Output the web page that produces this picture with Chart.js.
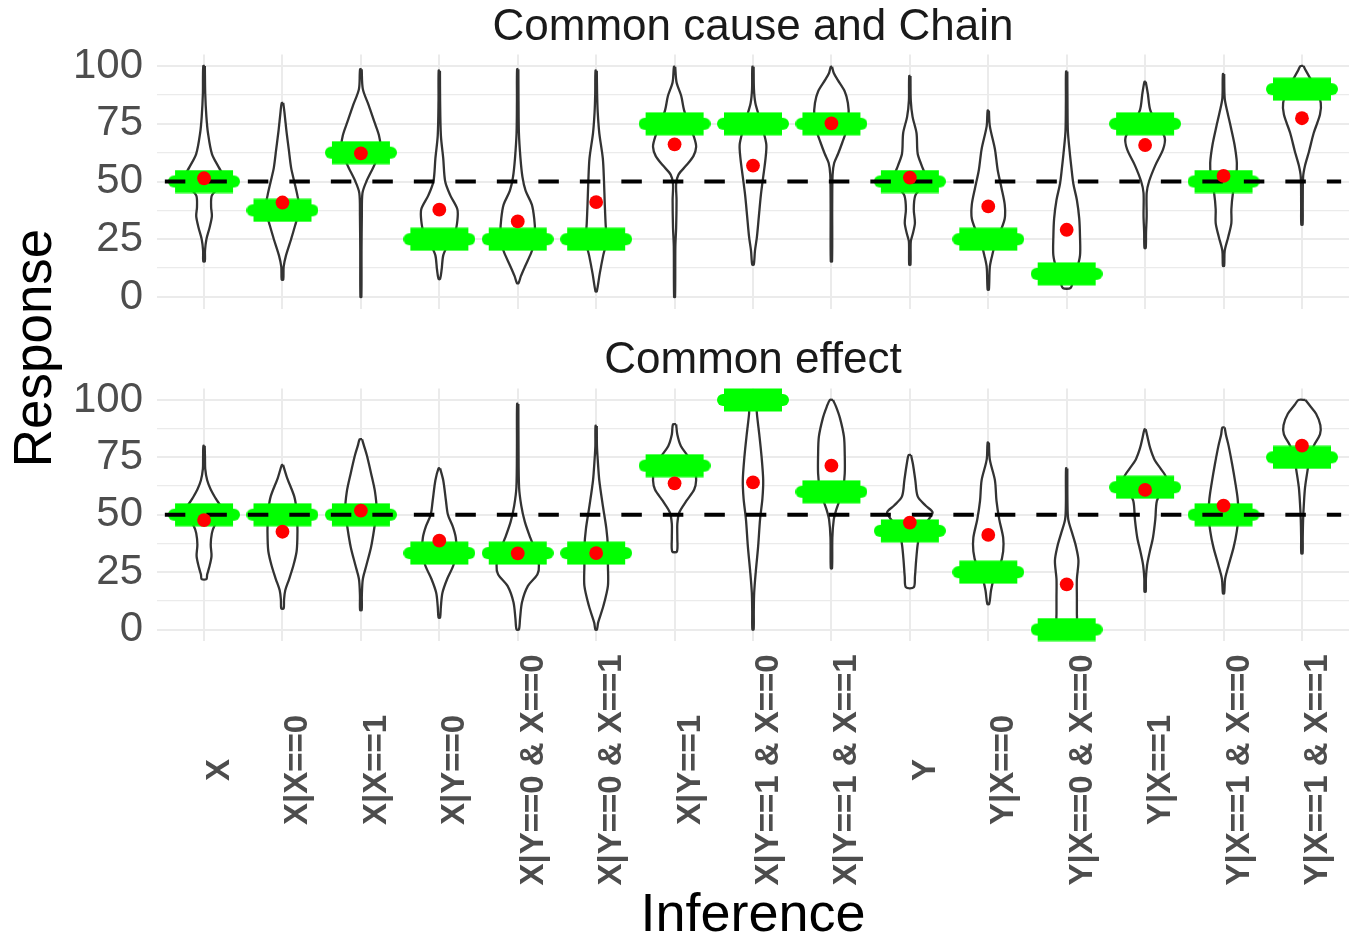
<!DOCTYPE html>
<html><head><meta charset="utf-8">
<script src="https://cdn.jsdelivr.net/npm/chart.js@4/dist/chart.umd.min.js"></script>
<style>
html,body{margin:0;padding:0;background:#fff;}
#wrap{position:relative;width:1362px;height:938px;overflow:hidden;}
#wrap canvas{position:absolute;left:0;top:0;}
</style></head><body>
<div id="wrap"><canvas id="topPanel" width="1362" height="938"></canvas><canvas id="bottomPanel" width="1362" height="938"></canvas></div>
<script>
const categories = ['X','X|X==0','X|X==1','X|Y==0','X|Y==0 & X==0','X|Y==0 & X==1','X|Y==1','X|Y==1 & X==0','X|Y==1 & X==1','Y','Y|X==0','Y|X==0 & X==0','Y|X==1','Y|X==1 & X==0','Y|X==1 & X==1'];
const panelTitles = ['Common cause and Chain', 'Common effect'];
const yTickValues = [0, 12.5, 25, 37.5, 50, 62.5, 75, 87.5, 100];
const yMajorTicks = [0, 25, 50, 75, 100];
const referenceLine = 50;
const xAxisTitle = 'Inference';
const yAxisTitle = 'Response';

const normativeTop = [50, 37.5, 62.5, 25, 25, 25, 75, 75, 75, 50, 25, 10, 75, 50, 90];
const meanTop = [51.4, 40.9, 62.2, 37.8, 32.7, 41.1, 66.1, 56.9, 75.2, 51.7, 39.2, 29.1, 65.8, 52.4, 77.4];
const normativeBottom = [50, 50, 50, 33.3, 33.3, 33.3, 71.4, 100, 60, 43, 25, 0, 62, 50, 75];
const meanBottom = [47.7, 42.6, 51.8, 38.7, 33.2, 33.3, 63.7, 64.1, 71.4, 46.6, 41.2, 19.7, 60.8, 54.0, 80.1];

// violin profiles: [response value, half-width in category units], from top to bottom
const violinTop = [
  [[100,0.01],[88,0.015],[78,0.03],[71,0.05],[62,0.1],[56,0.19],[52,0.25],[48,0.2],[44,0.1],[39,0.09],[35,0.1],[30,0.07],[25,0.03],[20,0.012],[15.4,0.01]],
  [[84,0.01],[80,0.025],[72,0.05],[64,0.08],[56,0.11],[50,0.15],[44,0.19],[38,0.22],[32,0.17],[25,0.11],[18,0.045],[13,0.015],[7.5,0.01]],
  [[98.6,0.01],[90,0.025],[83,0.1],[76,0.17],[70,0.23],[64,0.25],[57,0.17],[50,0.07],[45,0.02],[35,0.012],[20,0.008],[0,0.006]],
  [[98,0.008],[85,0.01],[70,0.02],[60,0.05],[50,0.075],[44,0.14],[38,0.23],[33,0.23],[28,0.2],[22,0.1],[18,0.05],[12,0.03],[7.8,0.01]],
  [[98.6,0.008],[85,0.01],[71,0.015],[60,0.035],[52,0.06],[46,0.1],[40,0.18],[34,0.21],[28,0.22],[22,0.2],[19,0.17],[13,0.09],[9,0.04],[6,0.01]],
  [[98,0.008],[88,0.012],[80,0.02],[71,0.04],[60,0.085],[50,0.1],[40,0.11],[32,0.12],[24,0.13],[18,0.09],[10,0.045],[2.4,0.008]],
  [[99.7,0.008],[93,0.025],[87,0.085],[81,0.12],[75,0.18],[69,0.25],[65,0.275],[61,0.24],[57,0.15],[53,0.05],[49,0.02],[42,0.025],[30,0.02],[22,0.01],[0,0.006]],
  [[99.7,0.008],[90,0.012],[84,0.03],[78,0.08],[72,0.13],[66,0.17],[60,0.16],[52,0.13],[44,0.1],[35,0.075],[26,0.05],[20,0.025],[14,0.01]],
  [[99.7,0.008],[97,0.03],[94,0.08],[89,0.17],[84,0.21],[78,0.22],[72,0.19],[67,0.14],[62,0.085],[58,0.035],[53,0.015],[40,0.01],[15.4,0.008]],
  [[95.7,0.008],[85,0.012],[78,0.035],[71,0.085],[62,0.1],[57,0.15],[52,0.2],[48,0.16],[44,0.07],[38,0.05],[32,0.065],[27,0.035],[24,0.012],[14,0.008]],
  [[80.7,0.008],[74,0.02],[64,0.085],[55,0.12],[47,0.17],[40,0.21],[34,0.21],[28,0.15],[22,0.08],[18,0.05],[13,0.02],[3.2,0.008]],
  [[97.6,0.008],[85,0.01],[72,0.015],[64,0.035],[56,0.06],[49,0.085],[42,0.13],[34,0.16],[26,0.17],[18,0.17],[12,0.13],[7,0.08],[3.9,0.05]],
  [[93.2,0.008],[88,0.035],[81,0.065],[75,0.15],[69,0.25],[64,0.23],[57,0.13],[50,0.05],[45,0.02],[35,0.02],[28,0.012],[21.2,0.008]],
  [[96.5,0.008],[86,0.015],[80,0.05],[74,0.09],[66,0.14],[58,0.17],[52,0.16],[45,0.12],[38,0.1],[32,0.1],[26,0.06],[20,0.015],[13.5,0.008]],
  [[100,0.02],[98,0.05],[95,0.1],[90,0.18],[84,0.24],[79,0.23],[71,0.15],[63,0.09],[57,0.04],[52,0.015],[40,0.01],[31.3,0.008]]
];
const violinBottom = [
  [[80,0.008],[75,0.012],[70,0.015],[65,0.04],[61,0.085],[57,0.15],[53,0.22],[49,0.2],[45,0.13],[42,0.1],[37,0.085],[32,0.095],[27,0.065],[24,0.04],[22,0.03]],
  [[71.7,0.008],[66,0.06],[58,0.15],[52,0.18],[46,0.19],[40,0.19],[34,0.18],[28,0.14],[22,0.085],[17,0.035],[13,0.02],[9.2,0.015]],
  [[82.9,0.015],[80,0.04],[76,0.075],[68,0.13],[60,0.18],[52,0.2],[44,0.17],[36,0.13],[28,0.07],[22,0.025],[15,0.012],[8.5,0.01]],
  [[70.2,0.01],[65,0.05],[56,0.085],[50,0.11],[45,0.17],[40,0.21],[34,0.22],[28,0.18],[22,0.1],[16,0.04],[10,0.02],[5.2,0.01]],
  [[98.3,0.008],[80,0.01],[62,0.017],[54,0.045],[47,0.09],[40,0.16],[34,0.23],[28,0.27],[24,0.25],[19,0.13],[12,0.055],[5,0.03],[0,0.015]],
  [[88.7,0.008],[80,0.01],[74,0.02],[65,0.04],[54,0.085],[44,0.13],[36,0.15],[28,0.15],[19,0.15],[10,0.09],[3,0.025],[0,0.01]],
  [[89.4,0.02],[85,0.035],[80,0.08],[75,0.18],[70,0.26],[65,0.275],[61,0.25],[56,0.15],[51,0.06],[46,0.035],[40,0.035],[34,0.03]],
  [[100,0.04],[94,0.05],[85,0.08],[75,0.11],[65,0.13],[57,0.12],[48,0.09],[36,0.065],[25,0.035],[16,0.015],[8,0.01],[0,0.008]],
  [[100,0.02],[97,0.06],[92,0.11],[84,0.16],[76,0.17],[68,0.17],[62,0.15],[56,0.1],[52,0.06],[48,0.03],[40,0.012],[26.7,0.008]],
  [[76,0.015],[72,0.04],[65,0.07],[58,0.1],[54,0.2],[51,0.29],[47,0.22],[42,0.13],[37,0.1],[30,0.08],[23,0.065],[18.4,0.05]],
  [[81.4,0.008],[74,0.02],[65,0.085],[56,0.105],[48,0.14],[40,0.19],[34,0.19],[28,0.15],[22,0.07],[17,0.035],[11.1,0.012]],
  [[70.2,0.008],[55,0.01],[48,0.02],[42,0.07],[36,0.12],[30,0.15],[22,0.13],[14,0.13],[7,0.13],[3,0.13],[0,0.1]],
  [[87.2,0.008],[84,0.03],[79,0.065],[74,0.12],[70,0.2],[66,0.27],[61,0.22],[56,0.15],[48,0.13],[40,0.1],[34,0.06],[28,0.025],[22,0.01],[16.5,0.008]],
  [[88,0.015],[85,0.03],[80,0.065],[72,0.11],[64,0.15],[57,0.18],[50,0.19],[43,0.17],[36,0.13],[28,0.065],[22,0.02],[15.8,0.008]],
  [[100,0.045],[98,0.09],[94,0.18],[89,0.235],[85,0.23],[80,0.15],[75,0.1],[69,0.07],[62,0.04],[55,0.025],[48,0.015],[40,0.01],[33.2,0.008]]
];

const FONT = '"Liberation Sans", Arial, sans-serif';

function makeBarImage() {
  const c = document.createElement('canvas');
  c.width = 72; c.height = 24;
  const g = c.getContext('2d');
  g.fillStyle = '#00ff00';
  g.fillRect(7, 0.5, 58, 23);
  g.beginPath();
  g.moveTo(6, 6); g.lineTo(66, 6);
  g.arc(66, 12, 6, -Math.PI / 2, Math.PI / 2);
  g.lineTo(6, 18);
  g.arc(6, 12, 6, Math.PI / 2, Math.PI * 1.5);
  g.closePath(); g.fill();
  return c;
}
const barImage = makeBarImage();

function violinDataset(idx, profile) {
  const right = profile.map(([v, w]) => ({ x: idx + w, y: v }));
  const left = profile.slice().reverse().map(([v, w]) => ({ x: idx - w, y: v }));
  const pts = right.concat(left);
  pts.push({ x: right[0].x, y: right[0].y });
  return {
    type: 'line', data: pts, order: 4,
    borderColor: '#333333', borderWidth: 2.3, backgroundColor: '#ffffff',
    fill: 'shape', tension: 0.3, pointRadius: 0, clip: false
  };
}

function buildDatasets(violins, normative, means) {
  const ds = violins.map((p, i) => violinDataset(i, p));
  ds.push({
    type: 'scatter', order: 3, data: normative.map((v, i) => ({ x: i, y: v })),
    pointStyle: barImage, pointRadius: 12, clip: false
  });
  ds.push({
    type: 'line', order: 2, data: [{ x: -0.5, y: referenceLine }, { x: categories.length - 0.5, y: referenceLine }],
    borderColor: '#000000', borderWidth: 4, borderDash: [20.5, 21], pointRadius: 0, fill: false
  });
  ds.push({
    type: 'scatter', order: 1, data: means.map((v, i) => ({ x: i, y: v })),
    pointStyle: 'circle', pointRadius: 6.9, backgroundColor: '#ff0000', borderWidth: 0, clip: false
  });
  return ds;
}

// panel strip title, centred over the plotting area
function panelTitlePlugin(text, centerY) {
  return {
    id: 'panelTitle',
    afterDraw(chart) {
      const ctx = chart.ctx, a = chart.chartArea;
      ctx.save();
      ctx.font = '44px ' + FONT;
      ctx.fillStyle = '#1a1a1a';
      ctx.textAlign = 'center';
      ctx.textBaseline = 'middle';
      ctx.fillText(text, (a.left + a.right) / 2, centerY);
      ctx.restore();
    }
  };
}

const responsePlugin = {
  id: 'responseTitle',
  afterDraw(chart) {
    const ctx = chart.ctx;
    ctx.save();
    ctx.translate(51, 348);
    ctx.rotate(-Math.PI / 2);
    ctx.font = '53px ' + FONT;
    ctx.fillStyle = '#000000';
    ctx.textAlign = 'center';
    ctx.textBaseline = 'alphabetic';
    ctx.fillText(yAxisTitle, 0, 0);
    ctx.restore();
  }
};

const xLabelPlugin = {
  id: 'xCategoryLabels',
  afterDraw(chart) {
    const s = chart.scales.x;
    const ctx = chart.ctx;
    ctx.save();
    ctx.font = 'bold 33px ' + FONT;
    ctx.fillStyle = '#4d4d4d';
    ctx.textAlign = 'center';
    ctx.textBaseline = 'alphabetic';
    categories.forEach((c, i) => {
      ctx.save();
      ctx.translate(s.getPixelForValue(i) + 25, chart.chartArea.bottom + 129);
      ctx.rotate(-Math.PI / 2);
      ctx.fillText(c, 0, 0);
      ctx.restore();
    });
    ctx.restore();
  }
};

function makeOptions(panel) {
  const isTop = panel === 0;
  return {
    responsive: false, animation: false, events: [],
    layout: { padding: { left: 0, right: 8, top: isTop ? 54.5 : 388.5, bottom: isTop ? 629.5 : 0 } },
    plugins: {
      legend: { display: false },
      tooltip: { enabled: false },
      title: { display: false }
    },
    scales: {
      x: {
        type: 'linear', min: -0.6, max: categories.length - 0.4,
        afterBuildTicks: s => { s.ticks = categories.map((c, i) => ({ value: i })); },
        ticks: { display: false, autoSkip: false },
        grid: { color: '#ebebeb', lineWidth: 2, drawTicks: false },
        border: { display: false },
        title: {
          display: !isTop, text: xAxisTitle, color: '#000000',
          font: { family: FONT, size: 54, lineHeight: 1 }, padding: { top: 0, bottom: -5 }
        },
        afterFit: s => { s.height = isTop ? 0 : 297; }
      },
      y: {
        type: 'linear', min: -5, max: 105,
        afterBuildTicks: s => { s.ticks = yTickValues.map(v => ({ value: v })); },
        ticks: {
          autoSkip: false, padding: 14, color: '#4d4d4d',
          font: { family: FONT, size: 42 },
          callback: v => (yMajorTicks.includes(v) ? String(v) : '')
        },
        grid: {
          color: '#ebebeb', drawTicks: false,
          lineWidth: ctx => (yMajorTicks.includes(ctx.tick.value) ? 2 : 1.3)
        },
        border: { display: false },
        afterFit: s => { s.width = 157; }
      }
    }
  };
}

new Chart(document.getElementById('topPanel'), {
  type: 'scatter',
  data: { datasets: buildDatasets(violinTop, normativeTop, meanTop) },
  options: makeOptions(0),
  plugins: [responsePlugin, panelTitlePlugin(panelTitles[0], 28)]
});
new Chart(document.getElementById('bottomPanel'), {
  type: 'scatter',
  data: { datasets: buildDatasets(violinBottom, normativeBottom, meanBottom) },
  options: makeOptions(1),
  plugins: [xLabelPlugin, panelTitlePlugin(panelTitles[1], 361)]
});
</script>
</body></html>
